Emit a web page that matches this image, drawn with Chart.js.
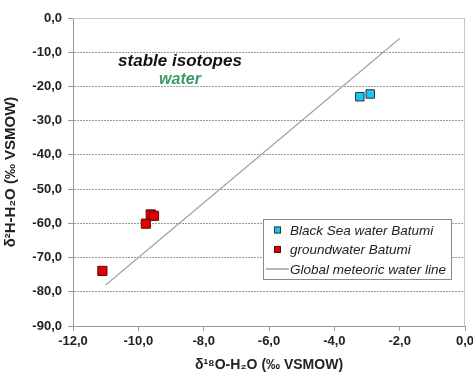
<!DOCTYPE html>
<html>
<head>
<meta charset="utf-8">
<script src="https://cdn.jsdelivr.net/npm/chart.js@4/dist/chart.umd.min.js"></script>
<style>
  html, body { margin: 0; padding: 0; background: #fff; }
  #wrap { width: 473px; height: 374px; }
</style>
</head>
<body>
<div id="wrap"><canvas id="isoChart"></canvas></div>
<script>
/* ================= DATA ================= */
const seaD18O = [-3.22, -2.90];
const seaD2H  = [-23.0, -22.2];
const gwD18O  = [-11.10, -9.77, -9.62, -9.52];
const gwD2H   = [-73.9, -60.1, -57.4, -57.8];
const gmwlD18O = [-11.0, -2.0];
const gmwlD2H  = [-78.0, -6.0];

const seriesNames = ['Black Sea water Batumi', 'groundwater Batumi', 'Global meteoric water line'];
const xTickRange = [-12, 0, 2];   // min, max, step
const yTickRange = [-90, 0, 10];

const toPoints = (xs, ys) => xs.map((x, i) => ({ x: x, y: ys[i] }));
const fmt = v => Number(v).toFixed(1).replace('.', ',');

const FONT = '"Liberation Sans", Arial, sans-serif';

/* ================= IN-PLOT TEXT + LEGEND ================= */
const decorPlugin = {
  id: 'decor',
  beforeDatasetsDraw(chart) {
    const { ctx, chartArea: a } = chart;
    ctx.save();
    ctx.strokeStyle = '#c8c8c8';
    ctx.lineWidth = 1;
    ctx.beginPath();
    ctx.moveTo(a.left, a.top + 0.5);
    ctx.lineTo(a.right - 0.5, a.top + 0.5);
    ctx.lineTo(a.right - 0.5, a.bottom);
    ctx.stroke();
    ctx.restore();
  },
  afterDraw(chart) {
    const { ctx, chartArea: a } = chart;
    ctx.save();
    // title inside plot
    ctx.textAlign = 'center';
    ctx.textBaseline = 'middle';
    ctx.fillStyle = '#111';
    ctx.font = 'italic bold 17px ' + FONT;
    ctx.fillText('stable isotopes', a.left + 107, a.top + 43);
    ctx.fillStyle = '#3a9a6a';
    ctx.font = 'italic bold 16px ' + FONT;
    ctx.fillText('water', a.left + 107, a.top + 62);

    // legend box
    const bx = a.right - 202, by = a.bottom - 107, bw = 188, bh = 60;
    ctx.fillStyle = '#fff';
    ctx.fillRect(bx, by, bw, bh);
    ctx.strokeStyle = '#8a8a8a';
    ctx.lineWidth = 1;
    ctx.strokeRect(bx + 0.5, by + 0.5, bw, bh);

    ctx.font = 'italic 13.5px ' + FONT;
    ctx.textAlign = 'left';
    const ds = chart.data.datasets;
    ds.forEach((d, i) => {
      const cy = by + 11 + i * 19.5;
      if (d.showLine) {
        ctx.strokeStyle = d.borderColor;
        ctx.lineWidth = 1.5;
        ctx.beginPath();
        ctx.moveTo(bx + 3, cy);
        ctx.lineTo(bx + 26, cy);
        ctx.stroke();
      } else {
        ctx.fillStyle = d.backgroundColor;
        ctx.fillRect(bx + 11, cy - 3.5, 7, 7);
        ctx.strokeStyle = d.borderColor;
        ctx.lineWidth = 1;
        ctx.strokeRect(bx + 11.5, cy - 3, 6, 6);
      }
      ctx.fillStyle = '#222';
      ctx.fillText(d.label, bx + 27, cy + 1);
    });
    ctx.restore();
  }
};

/* ================= CHART ================= */
const isoChart = new Chart(
  document.getElementById('isoChart'),
  {
    type: 'scatter',
    data: {
      datasets: [
        {
          label: seriesNames[0],
          data: toPoints(seaD18O, seaD2H),
          pointStyle: 'rect',
          pointRadius: 6,
          backgroundColor: '#19c6ee',
          borderColor: '#2b3440',
          borderWidth: 1,
          order: 1
        },
        {
          label: seriesNames[1],
          data: toPoints(gwD18O, gwD2H),
          pointStyle: 'rect',
          pointRadius: 6.5,
          backgroundColor: '#e00000',
          borderColor: '#5a0d0d',
          borderWidth: 1,
          order: 2
        },
        {
          label: seriesNames[2],
          data: toPoints(gmwlD18O, gmwlD2H),
          showLine: true,
          pointRadius: 0,
          borderColor: '#9ba3ad',
          borderWidth: 1.2,
          order: 3
        }
      ]
    },
    options: {
      responsive: true,
      maintainAspectRatio: false,
      animation: false,
      layout: { padding: { top: 18, right: 8, left: 0, bottom: 0 } },
      plugins: {
        legend: { display: false },
        tooltip: { enabled: false }
      },
      scales: {
        x: {
          type: 'linear',
          min: xTickRange[0],
          max: xTickRange[1],
          ticks: {
            stepSize: xTickRange[2],
            callback: v => fmt(v),
            color: '#222',
            font: { family: FONT, size: 13, weight: 'bold' },
            padding: 3,
            maxRotation: 0
          },
          grid: { drawOnChartArea: false, drawTicks: true, tickLength: 5, color: '#999' },
          border: { color: '#999', width: 1 },
          title: {
            display: true,
            text: 'δ¹⁸O-H₂O (‰ VSMOW)',
            color: '#222',
            font: { family: FONT, size: 14, weight: 'bold' },
            padding: { top: 3, bottom: 0 }
          },
          afterFit(scale) {
            scale.height = 48;
            scale.paddingLeft = 0;
            scale.paddingRight = 0;
          }
        },
        y: {
          type: 'linear',
          min: yTickRange[0],
          max: yTickRange[1],
          ticks: {
            stepSize: yTickRange[2],
            callback: v => fmt(v),
            color: '#222',
            font: { family: FONT, size: 13, weight: 'bold' },
            padding: 6
          },
          grid: { color: '#9a9a9a', tickLength: 5, lineWidth: 1 },
          border: { color: '#999', width: 1, dash: [2, 1] },
          title: {
            display: true,
            text: 'δ²H-H₂O (‰ VSMOW)',
            color: '#222',
            font: { family: FONT, size: 15, weight: 'bold' },
            padding: { top: 2, bottom: 4 }
          },
          afterFit(scale) {
            scale.width = 73;
            scale.paddingTop = 0;
            scale.paddingBottom = 0;
          }
        }
      }
    },
    plugins: [decorPlugin]
  }
);
</script>
</body>
</html>
